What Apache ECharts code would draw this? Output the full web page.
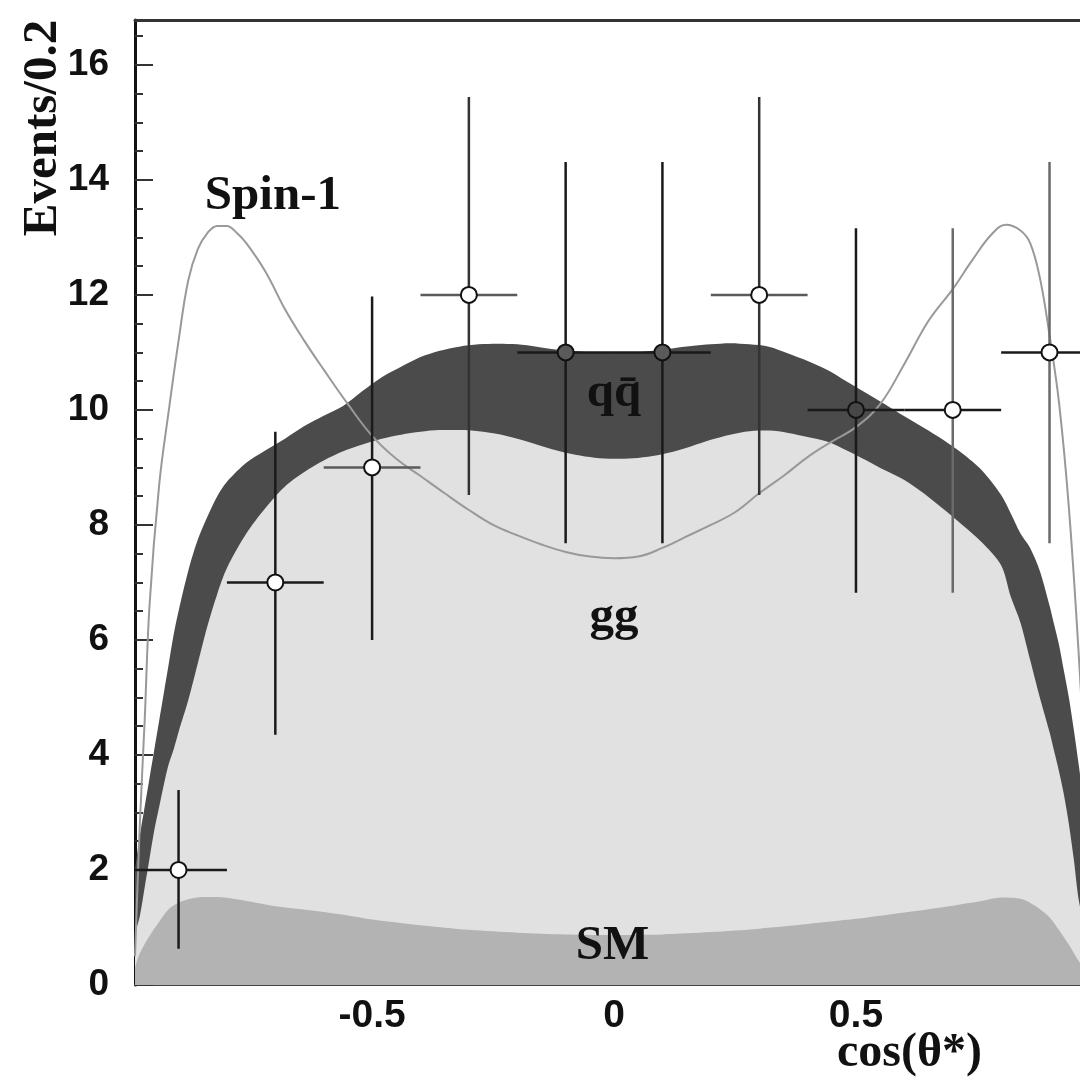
<!DOCTYPE html>
<html><head><meta charset="utf-8">
<script src="https://cdn.jsdelivr.net/npm/echarts@6/dist/echarts.min.js"></script>
<style>html,body{margin:0;padding:0;background:#fff}#c{width:1080px;height:1081px}</style>
</head><body><div id="c"></div>
<script>
// ---- tick labels ----
const xTickLabels = [-0.5, 0, 0.5];
const xMinorTicks = [-0.9,-0.8,-0.7,-0.6,-0.4,-0.3,-0.2,-0.1,0.1,0.2,0.3,0.4,0.6,0.7,0.8,0.9];
const yTickLabels = [0, 2, 4, 6, 8, 10, 12, 14, 16];
const yMinorTicks = [0.5,1,1.5,2.5,3,3.5,4.5,5,5.5,6.5,7,7.5,8.5,9,9.5,10.5,11,11.5,12.5,13,13.5,14.5,15,15.5,16.5];

// ---- stacked template bands (cumulative heights) ----
const bandX = [-0.99,-0.98,-0.97,-0.96,-0.95,-0.94,-0.93,-0.92,-0.91,-0.90,-0.88,-0.86,-0.84,-0.82,-0.80,-0.76,-0.72,-0.68,-0.64,-0.60,-0.56,-0.52,-0.48,-0.44,-0.40,-0.36,-0.32,-0.28,-0.24,-0.20,-0.16,-0.12,-0.08,-0.04,0,
  0.04,0.08,0.12,0.16,0.20,0.24,0.28,0.32,0.36,0.40,0.44,0.48,0.52,0.56,0.60,0.64,0.68,0.72,0.76,0.80,0.82,0.84,0.86,0.88,0.90,0.91,0.92,0.93,0.94,0.95,0.96,0.97,0.98];
// top of qq-bar band (SM + gg + qq)
const qqTop = [2.0,2.6,3.1,3.6,4.1,4.6,5.1,5.6,6.1,6.5,7.2,7.75,8.15,8.5,8.75,9.08,9.3,9.5,9.72,9.9,10.07,10.33,10.57,10.75,10.92,11.03,11.1,11.14,11.15,11.14,11.1,11.05,11.02,11.0,10.99,
  11.0,11.03,11.07,11.11,11.14,11.16,11.14,11.1,10.98,10.85,10.7,10.5,10.3,10.1,9.89,9.69,9.48,9.24,8.95,8.52,8.2,7.85,7.6,7.2,6.6,6.25,5.9,5.45,5.0,4.45,3.85,3.2,2.5];
// top of gg band (SM + gg)
const ggTop = [0.9,1.2,1.7,2.2,2.7,3.1,3.5,3.85,4.1,4.4,4.95,5.6,6.25,6.8,7.25,7.85,8.3,8.67,8.92,9.12,9.28,9.4,9.5,9.57,9.62,9.65,9.65,9.63,9.58,9.5,9.4,9.3,9.22,9.17,9.15,
  9.16,9.2,9.27,9.37,9.48,9.57,9.63,9.64,9.6,9.53,9.45,9.3,9.13,8.95,8.78,8.55,8.28,8.0,7.7,7.3,6.75,6.3,5.65,5.0,4.4,4.05,3.7,3.3,2.8,2.2,1.5,1.1,0.8];

// ---- SM background ----
const smX = [-0.99,-0.98,-0.96,-0.94,-0.92,-0.90,-0.88,-0.85,-0.82,-0.78,-0.74,-0.70,-0.65,-0.60,-0.55,-0.50,-0.40,-0.30,-0.20,-0.10,0,0.10,0.20,0.30,0.40,0.50,0.60,0.70,0.76,0.80,0.84,0.87,0.90,0.92,0.94,0.96,0.98];
const smVals = [0.3,0.55,0.85,1.1,1.32,1.43,1.49,1.53,1.53,1.49,1.43,1.37,1.32,1.27,1.21,1.14,1.04,0.96,0.91,0.88,0.87,0.88,0.92,0.98,1.06,1.15,1.26,1.38,1.46,1.52,1.5,1.38,1.18,0.95,0.7,0.42,0.2];

// ---- Spin-1 curve ----
const spinX = [-0.99,-0.98,-0.97,-0.96,-0.94,-0.92,-0.90,-0.88,-0.86,-0.84,-0.82,-0.80,-0.78,-0.76,-0.72,-0.68,-0.64,-0.60,-0.55,-0.50,-0.45,-0.40,-0.35,-0.30,-0.25,-0.20,-0.15,-0.10,-0.05,0,
  0.05,0.10,0.15,0.20,0.25,0.30,0.35,0.40,0.45,0.50,0.55,0.60,0.65,0.70,0.74,0.78,0.81,0.84,0.86,0.88,0.90,0.92,0.94,0.96,0.98];
const spinVals = [0.5,2.8,4.6,6.6,8.7,10.0,11.2,12.25,12.8,13.08,13.2,13.2,13.08,12.9,12.4,11.75,11.2,10.7,10.1,9.55,9.15,8.85,8.55,8.26,8.0,7.82,7.66,7.53,7.45,7.42,
  7.45,7.6,7.8,8.0,8.22,8.55,8.85,9.18,9.45,9.7,10.1,10.8,11.55,12.1,12.6,13.05,13.22,13.12,12.9,12.3,11.3,10.1,8.3,5.8,2.8];

// ---- data points ----
const dataX = [-0.9,-0.7,-0.5,-0.3,-0.1,0.1,0.3,0.5,0.7,0.9];
const dataY = [2,7,9,12,11,11,12,10,10,11];
const errLow = [0.63,4.35,6.0,8.52,7.68,7.68,8.52,6.82,6.82,7.68];
const errHigh = [3.39,9.62,11.97,15.44,14.31,14.31,15.44,13.16,13.16,14.31];
const binHalf = 0.1;

// ---- styles (kept separate from values) ----
const markerFill = ['#fff','#fff','#fff','#fff','#5a5a5a','#5a5a5a','#fff','#474747','#fff','#fff'];
const vBarColor = ['#1a1a1a','#1a1a1a','#1a1a1a','#333','#1a1a1a','#1a1a1a','#333','#1a1a1a','#6a6a6a','#6a6a6a'];
const hBarColor = ['#1a1a1a','#1a1a1a','#5a5a5a','#5a5a5a','#1a1a1a','#1a1a1a','#5a5a5a','#1a1a1a','#1a1a1a','#1a1a1a'];

// ---- annotations (data coords) ----
const notes = [
  {text:'Spin-1', x:-0.705, y:13.72},
  {text:'qq\u0304', x:0.0, y:10.28},
  {text:'gg', x:0.0, y:6.4},
  {text:'SM', x:-0.003, y:0.68}
];

const zip = (xs, ys) => xs.map((x, i) => [x, ys[i]]);
const serif = '"Liberation Serif","DejaVu Serif",serif';
const sans = '"Liberation Sans",Arial,sans-serif';

const chart = echarts.init(document.getElementById('c'), null, {renderer:'canvas'});
const X0 = -0.99, X1 = 0.963, YMAX = 16.78;

const option = {
  animation: false,
  backgroundColor: '#fff',
  grid: {left: 135, right: 0, top: 20, bottom: 96},
  xAxis: [
    {type:'value', min:X0, max:X1, position:'bottom',
     axisLine:{show:true, onZero:false, lineStyle:{color:'#444', width:2}},
     axisTick:{show:true, inside:true, length:19, customValues:xTickLabels, lineStyle:{color:'#444', width:2}},
     axisLabel:{show:true, customValues:xTickLabels, fontSize:39, fontWeight:'bold', fontFamily:sans, color:'#111', margin:12},
     splitLine:{show:false}},
    {type:'value', min:X0, max:X1, position:'bottom',
     axisLine:{show:false, onZero:false},
     axisTick:{show:true, inside:true, length:9, customValues:xMinorTicks, lineStyle:{color:'#444', width:2}},
     axisLabel:{show:false}, splitLine:{show:false}},
    {type:'value', min:X0, max:X1, position:'top',
     axisLine:{show:true, onZero:false, lineStyle:{color:'#333', width:3}},
     axisTick:{show:false}, axisLabel:{show:false}, splitLine:{show:false}}
  ],
  yAxis: [
    {type:'value', min:0, max:YMAX, position:'left',
     axisLine:{show:true, onZero:false, lineStyle:{color:'#111', width:3}},
     axisTick:{show:true, inside:true, length:18, customValues:yTickLabels, lineStyle:{color:'#333', width:2}},
     axisLabel:{show:true, customValues:yTickLabels, fontSize:37, fontWeight:'bold', fontFamily:sans, color:'#111', margin:26},
     splitLine:{show:false}},
    {type:'value', min:0, max:YMAX, position:'left',
     axisLine:{show:false, onZero:false},
     axisTick:{show:true, inside:true, length:8, customValues:yMinorTicks, lineStyle:{color:'#333', width:2}},
     axisLabel:{show:false}, splitLine:{show:false}}
  ],
  series: [
    {name:'qqbar', type:'line', xAxisIndex:0, yAxisIndex:0, data:zip(bandX, qqTop), showSymbol:false, symbol:'none', smooth:0.3,
     lineStyle:{width:0}, areaStyle:{color:'#4b4b4b', opacity:1, origin:'start'}, z:1, clip:true},
    {name:'gg', type:'line', xAxisIndex:0, yAxisIndex:0, data:zip(bandX, ggTop), showSymbol:false, symbol:'none', smooth:0.3,
     lineStyle:{width:0}, areaStyle:{color:'#e1e1e1', opacity:1, origin:'start'}, z:2, clip:true},
    {name:'SM', type:'line', xAxisIndex:0, yAxisIndex:0, data:zip(smX, smVals), showSymbol:false, symbol:'none', smooth:0.3,
     lineStyle:{width:0}, areaStyle:{color:'#b3b3b3', opacity:1, origin:'start'}, z:3, clip:true},
    {name:'Spin-1', type:'line', xAxisIndex:0, yAxisIndex:0, data:zip(spinX, spinVals), showSymbol:false, symbol:'none', smooth:0.4,
     lineStyle:{width:2, color:'#999'}, z:4, clip:true},
    {name:'data', type:'custom', xAxisIndex:0, yAxisIndex:0, z:5, clip:true,
     data: dataX.map((x, i) => [x, dataY[i], errLow[i], errHigh[i]]),
     renderItem: function (params, api) {
       const i = params.dataIndex;
       const x = api.value(0), y = api.value(1), lo = api.value(2), hi = api.value(3);
       const c = api.coord([x, y]);
       const t = api.coord([x, hi]), b = api.coord([x, lo]);
       const l = api.coord([x - binHalf, y]), r = api.coord([x + binHalf, y]);
       return {type:'group', children:[
         {type:'line', shape:{x1:t[0], y1:t[1], x2:b[0], y2:b[1]}, style:{stroke:vBarColor[i], lineWidth:2.5}},
         {type:'line', shape:{x1:l[0], y1:l[1], x2:r[0], y2:r[1]}, style:{stroke:hBarColor[i], lineWidth:2.5}},
         {type:'circle', shape:{cx:c[0], cy:c[1], r:8}, style:{fill:markerFill[i], stroke:'#111', lineWidth:2}}
       ]};
     }}
  ]
};
chart.setOption(option);

const g = [];
notes.forEach(n => {
  const p = chart.convertToPixel({xAxisIndex:0, yAxisIndex:0}, [n.x, n.y]);
  g.push({type:'text', x:p[0], y:p[1], z:10,
    style:{text:n.text, font:'bold 49px ' + serif, fill:'#111', textAlign:'center', textVerticalAlign:'middle'}});
});
g.push({type:'text', x:43, y:128, rotation:Math.PI/2, z:10,
  style:{text:'Events/0.2', font:'bold 49px ' + serif, fill:'#111', textAlign:'center', textVerticalAlign:'middle'}});
g.push({type:'text', x:982, y:1054, z:10,
  style:{text:'cos(\u03B8*)', font:'bold 48px ' + serif, fill:'#111', textAlign:'right', textVerticalAlign:'middle'}});
chart.setOption({graphic:{elements:g}});
</script>
</body></html>
